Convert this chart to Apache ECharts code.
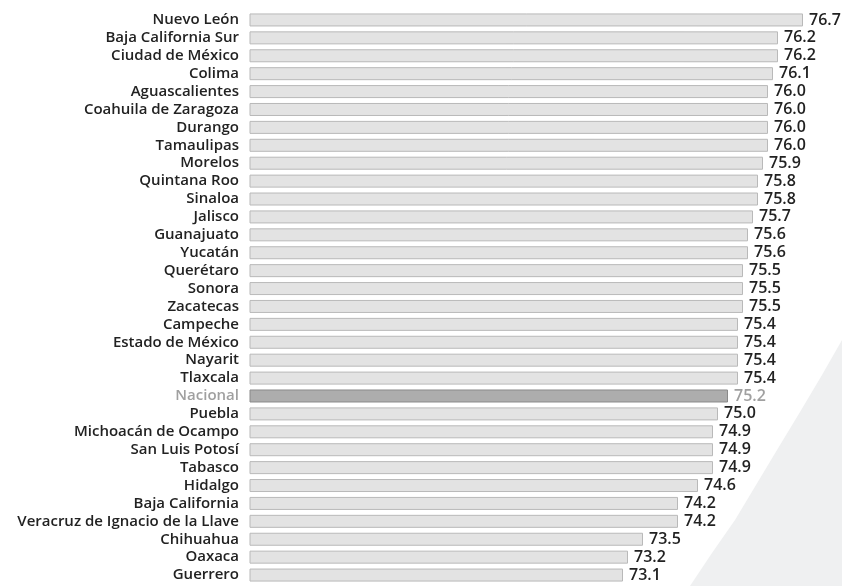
<!DOCTYPE html>
<html>
<head>
<meta charset="utf-8">
<script src="https://cdn.jsdelivr.net/npm/echarts@6/dist/echarts.min.js"></script>
<style>
  html, body { margin: 0; padding: 0; background: #fff; }
  #chart { width: 842px; height: 586px; }
</style>
</head>
<body>
<div id="chart"></div>
<script>
  // entidades, de mayor a menor
  var estados = [
    'Nuevo León', 'Baja California Sur', 'Ciudad de México', 'Colima', 'Aguascalientes',
    'Coahuila de Zaragoza', 'Durango', 'Tamaulipas', 'Morelos', 'Quintana Roo', 'Sinaloa',
    'Jalisco', 'Guanajuato', 'Yucatán', 'Querétaro', 'Sonora', 'Zacatecas', 'Campeche',
    'Estado de México', 'Nayarit', 'Tlaxcala', 'Nacional', 'Puebla', 'Michoacán de Ocampo',
    'San Luis Potosí', 'Tabasco', 'Hidalgo', 'Baja California', 'Veracruz de Ignacio de la Llave',
    'Chihuahua', 'Oaxaca', 'Guerrero'
  ];
  var valores = [
    76.7, 76.2, 76.2, 76.1, 76.0,
    76.0, 76.0, 76.0, 75.9, 75.8, 75.8,
    75.7, 75.6, 75.6, 75.5, 75.5, 75.5, 75.4,
    75.4, 75.4, 75.4, 75.2, 75.0, 74.9,
    74.9, 74.9, 74.6, 74.2, 74.2,
    73.5, 73.2, 73.1
  ];
  var destacado = 'Nacional';

  var chart = echarts.init(document.getElementById('chart'));

  var datos = valores.map(function (v, i) {
    if (estados[i] === destacado) {
      return {
        value: v,
        itemStyle: { color: '#adadad', borderColor: '#8a8a8a' },
        label: { color: '#a0a0a0' }
      };
    }
    return v;
  });

  var option = {
    animation: false,
    backgroundColor: '#fff',
    graphic: [{
      type: 'polygon',
      silent: true,
      z: -10,
      shape: {
        points: [[842, 340], [822, 375], [800, 412], [777, 450], [756, 485], [735, 520], [712, 553], [690, 586], [842, 586]]
      },
      style: { fill: '#eff0f1' }
    }],
    grid: { left: 250, right: 27, top: 11, bottom: 2 },
    xAxis: {
      type: 'value',
      min: 65.64,
      max: 76.94,
      show: false
    },
    yAxis: {
      type: 'category',
      inverse: true,
      data: estados,
      axisLine: { show: false },
      axisTick: { show: false },
      axisLabel: {
        interval: 0,
        margin: 11,
        fontFamily: 'Open Sans',
        fontSize: 15,
        fontWeight: 600,
        color: '#222',
        formatter: function (v) {
          return v === destacado ? '{n|' + v + '}' : v;
        },
        rich: { n: { color: '#a0a0a0', fontFamily: 'Open Sans', fontSize: 15, fontWeight: 600 } }
      }
    },
    series: [{
      type: 'bar',
      data: datos,
      barWidth: 13,
      itemStyle: { color: '#e3e3e3', borderColor: '#b9b9b9', borderWidth: 1 },
      label: {
        show: true,
        position: 'right',
        distance: 6,
        fontFamily: 'Open Sans',
        fontSize: 16,
        fontWeight: 600,
        color: '#222',
        formatter: function (p) { return p.value.toFixed(1); }
      }
    }]
  };

  chart.setOption(option);
</script>
</body>
</html>
